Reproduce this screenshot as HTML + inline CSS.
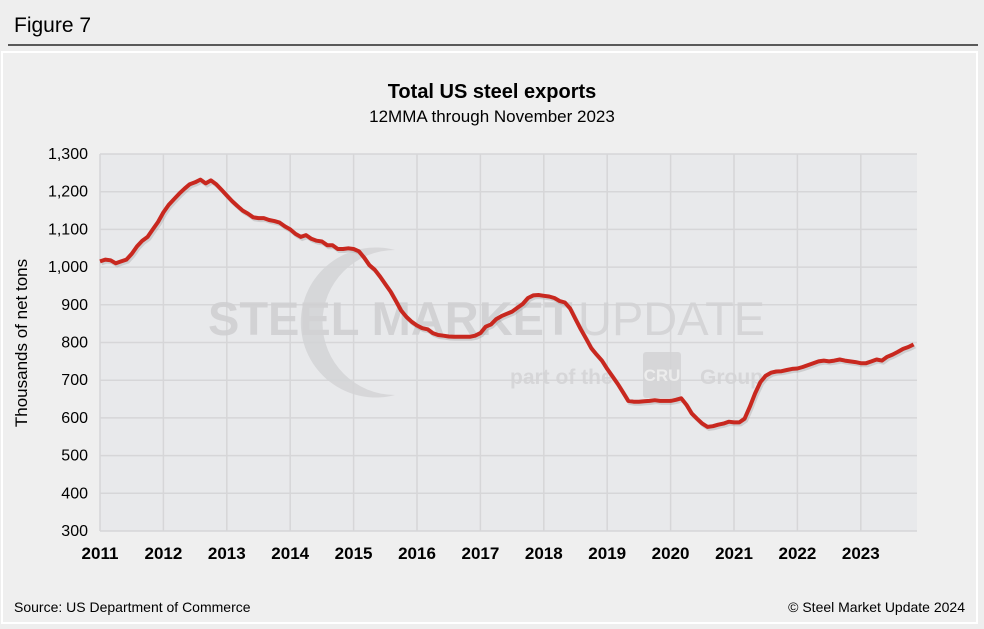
<!DOCTYPE html>
<html><head><meta charset="utf-8"><style>
body{margin:0;background:#eeeeee;font-family:"Liberation Sans",Arial,sans-serif;}
svg{display:block}
</style></head><body>
<svg width="984" height="629" viewBox="0 0 984 629" id="c">
<rect x="0" y="0" width="984" height="629" fill="#eeeeee"/>
<text x="14" y="32" font-size="21" fill="#000">Figure 7</text>
<line x1="8" y1="45" x2="978" y2="45" stroke="#000" stroke-width="1.3"/>
<rect x="2" y="52" width="975" height="571" fill="#efefef" stroke="#ffffff" stroke-width="2"/>
<text x="492" y="98" font-size="20" font-weight="bold" text-anchor="middle">Total US steel exports</text>
<text x="492" y="122" font-size="17" text-anchor="middle">12MMA through November 2023</text>
<rect x="100" y="154" width="817" height="377" fill="#e8e9eb"/>
<g id="grid"></g>
<g opacity="0.85">
<path d="M395 250 A75 75 0 1 0 395 395 A60 60 0 1 1 395 250 Z" fill="#d3d4d6"/>
<text x="208" y="335" font-size="47" font-weight="bold" fill="#cfcfd1">STEEL MARKET</text>
<text x="578" y="335" font-size="47" fill="#d2d2d4">UPDATE</text>
<text x="510" y="384" font-size="21" font-weight="bold" fill="#d3d3d5">part of the</text>
<rect x="643" y="352" width="38" height="46" rx="3" fill="#d3d3d5"/>
<text x="662" y="381" font-size="17" font-weight="bold" fill="#eeeeee" text-anchor="middle">CRU</text>
<text x="700" y="384" font-size="21" font-weight="bold" fill="#d3d3d5">Group</text>
</g>
<g id="axes"></g>
<path id="shadow" fill="none" stroke="#9a9a9a" stroke-opacity="0.35" stroke-width="4" transform="translate(1.5,2)"/>
<path id="line" fill="none" stroke="#c8281f" stroke-width="4" stroke-linejoin="round"/>
<text transform="translate(27,343) rotate(-90)" font-size="17" text-anchor="middle">Thousands of net tons</text>
<text x="14" y="612" font-size="14">Source: US Department of Commerce</text>
<text x="965" y="612" font-size="14" text-anchor="end">© Steel Market Update 2024</text>
</svg>
<script>
const years=[2011,2012,2013,2014,2015,2016,2017,2018,2019,2020,2021,2022,2023];
const yTicks=[300,400,500,600,700,800,900,1000,1100,1200,1300];
const yTickLabels=["300","400","500","600","700","800","900","1,000","1,100","1,200","1,300"];
const startYear=2011;
const exports=[
1015,1020,1018,1010,1015,1020,1035,1055,1070,1080,1100,1120,
1145,1165,1180,1195,1208,1220,1225,1232,1222,1230,1220,1205,
1190,1175,1162,1150,1142,1132,1130,1130,1125,1122,1118,1108,
1100,1088,1080,1085,1075,1070,1068,1058,1058,1048,1048,1050,
1048,1042,1025,1005,993,975,955,935,910,885,868,855,
845,838,835,825,820,818,816,815,815,815,815,818,
825,842,848,862,870,876,882,892,902,918,925,926,
924,922,918,910,906,890,862,835,810,785,768,752,
730,710,690,668,645,643,643,644,645,647,645,645,
645,648,652,635,612,598,585,576,578,582,585,590,
588,588,598,630,665,695,712,720,723,724,727,730,
731,735,740,745,750,752,750,752,755,752,750,748,
745,745,750,755,752,762,768,775,783,788,795];
const L=100,R=917,T=154,B=531,yMin=300,yMax=1300;
const pxYear=63.4;
function xs(t){return L+(t-startYear)*pxYear;}
function ys(v){return B-(v-yMin)/(yMax-yMin)*(B-T);}
const ns="http://www.w3.org/2000/svg";
const grid=document.getElementById('grid'),axes=document.getElementById('axes');
function mk(tag,attrs,parent){const e=document.createElementNS(ns,tag);for(const k in attrs)e.setAttribute(k,attrs[k]);parent.appendChild(e);return e;}
yTicks.forEach((v,i)=>{
 const g=mk('line',{x1:L,x2:R,y1:ys(v),y2:ys(v),stroke:'#d6d6d8','stroke-width':1.5},grid);
 
 
 const t=mk('text',{x:L-12,y:ys(v)+5,'font-size':16,'text-anchor':'end',fill:'#000'},axes);
 t.textContent=yTickLabels[i];
 
 
});
years.forEach(y=>{
 const g=mk('line',{x1:xs(y),x2:xs(y),y1:T,y2:B,stroke:'#d6d6d8','stroke-width':1.5},grid);
 
 
 const t=mk('text',{x:xs(y),y:559,'font-size':17,'font-weight':'bold','text-anchor':'middle',fill:'#000'},axes);
 t.textContent=y;
 
 
});
let d='';
exports.forEach((v,i)=>{d+=(i?'L':'M')+xs(startYear+i/12).toFixed(1)+' '+ys(v).toFixed(1);});
document.getElementById('line').setAttribute('d',d);
document.getElementById('shadow').setAttribute('d',d);
</script>
</body></html>
